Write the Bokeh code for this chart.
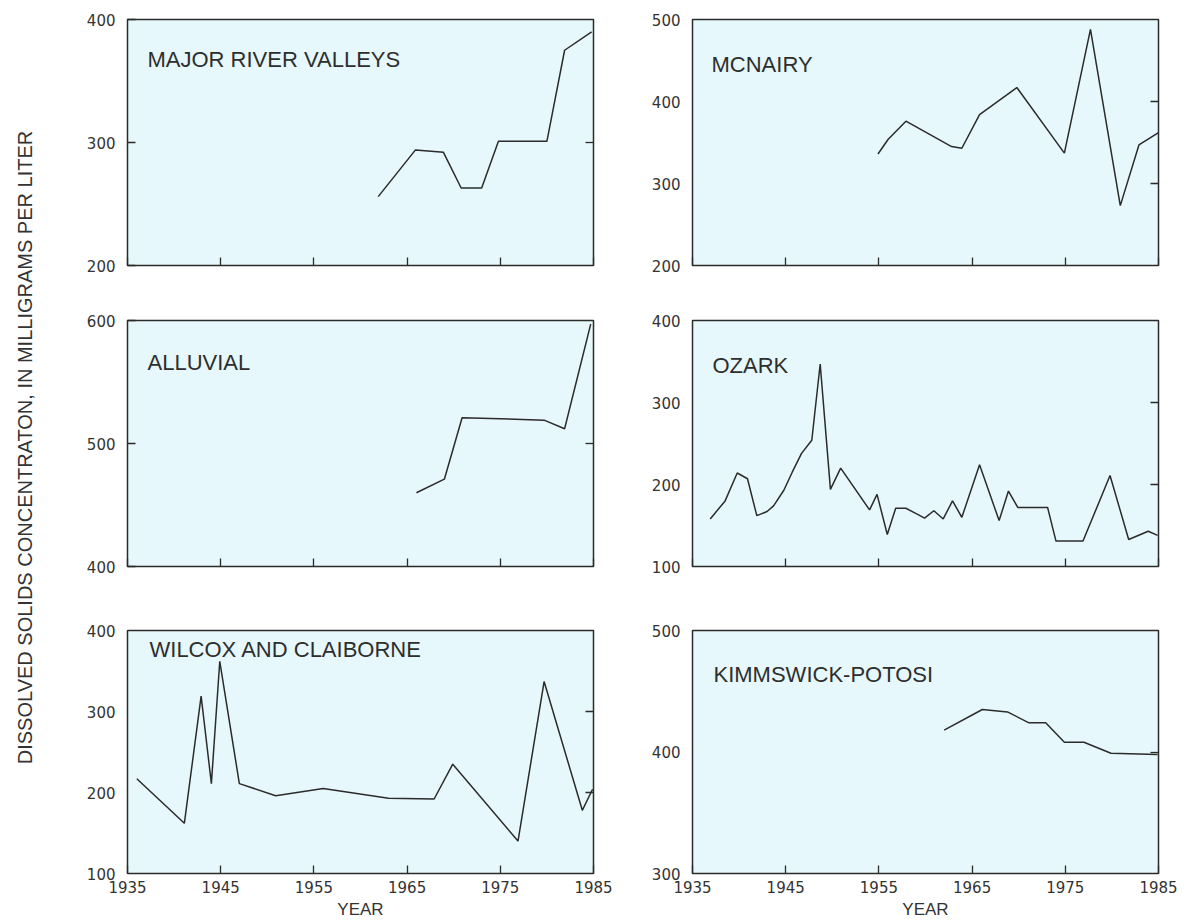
import math
from bokeh.plotting import figure
from bokeh.models import Range1d, FixedTicker, LinearAxis, Label, CustomJSTickFormatter
from bokeh.layouts import row, column
from bokeh.embed import file_html
from bokeh.resources import INLINE

# ---------------- data ----------------
year_ticks = [1935, 1945, 1955, 1965, 1975, 1985]
y_title = "DISSOLVED SOLIDS CONCENTRATON, IN MILLIGRAMS PER LITER"
x_title = "YEAR"

mrv_name = "MAJOR RIVER VALLEYS"
mrv_year = [1961.9, 1965.9, 1968.9, 1970.8, 1973.0, 1974.8, 1980.0, 1981.9, 1984.8]
mrv_tds = [256, 294, 292, 263, 263, 301, 301, 375, 390]

mcn_name = "MCNAIRY"
mcn_year = [1954.9, 1956.0, 1957.9, 1962.8, 1963.9, 1965.8, 1969.8, 1974.9, 1977.7,
            1980.9, 1982.9, 1985.0]
mcn_tds = [336, 354, 376, 345, 343, 384, 417, 337, 488, 273, 347, 362]

alv_name = "ALLUVIAL"
alv_year = [1966.0, 1969.0, 1970.9, 1979.7, 1981.9, 1984.7]
alv_tds = [460, 471, 521, 519, 512, 597]

ozk_name = "OZARK"
ozk_year = [1936.9, 1938.5, 1939.8, 1940.9, 1941.9, 1943.0, 1943.7, 1944.8, 1945.7,
            1946.7, 1947.8, 1948.7, 1949.8, 1950.9, 1954.0, 1954.8, 1955.9, 1956.8,
            1957.9, 1958.9, 1959.9, 1960.9, 1961.9, 1962.9, 1963.9, 1965.8, 1967.9,
            1968.9, 1969.9, 1973.1, 1974.0, 1976.9, 1979.8, 1981.8, 1983.9, 1984.9]
ozk_tds = [158, 180, 214, 207, 162, 167, 174, 193, 215,
           238, 254, 347, 194, 220, 169, 188, 139, 171,
           171, 165, 159, 168, 158, 180, 160, 224, 156,
           192, 172, 172, 131, 131, 211, 133, 143, 138]

wil_name = "WILCOX AND CLAIBORNE"
wil_year = [1936.0, 1941.1, 1942.9, 1944.0, 1944.9, 1947.0, 1950.9, 1956.0, 1963.0,
            1967.9, 1969.9, 1976.9, 1979.7, 1983.8, 1984.9]
wil_tds = [217, 162, 319, 211, 362, 211, 196, 205, 193, 192, 235, 140, 337, 178, 204]

kim_name = "KIMMSWICK-POTOSI"
kim_year = [1962.0, 1966.1, 1968.8, 1971.1, 1972.9, 1974.9, 1977.0, 1979.9, 1984.9]
kim_tds = [418, 435, 433, 424, 424, 408, 408, 399, 398]

# ---------------- styling / layout ----------------
FRAME_FILL = "#e6f8fb"
INK = "#2b2b2b"
TICK_FONT = "DejaVu Sans"
TEXT_FONT = "Liberation Sans"

LAB_W = 68
col_w = [558, 556]
col_bl = [59, 66]
col_br = [33, 24]
row_h = [292, 312, 317]
row_bt = [19, 28, 26]
row_bb = [27, 38, 47]

blank = CustomJSTickFormatter(code="return ''")


def panel(name, xs, ys, yr, yticks, rticks, left_in, r, c, tdx, tdy):
    p = figure(width=col_w[c], height=row_h[r],
               x_range=Range1d(1935, 1985), y_range=Range1d(*yr),
               toolbar_location=None, output_backend="svg",
               min_border_left=col_bl[c], min_border_right=col_br[c],
               min_border_top=row_bt[r], min_border_bottom=row_bb[r],
               background_fill_color=FRAME_FILL, border_fill_color="white")
    p.xgrid.visible = False
    p.ygrid.visible = False
    p.outline_line_color = INK
    p.outline_line_width = 1.5

    xa = p.xaxis[0]
    xa.ticker = FixedTicker(ticks=year_ticks)
    xa.major_tick_in = 8
    xa.major_tick_out = 0
    xa.minor_tick_line_color = None
    xa.axis_line_color = None
    xa.major_tick_line_color = INK
    xa.major_tick_line_width = 1.3
    if r == 2:
        xa.major_label_text_font = TICK_FONT
        xa.major_label_text_font_size = "15px"
        xa.major_label_text_color = "#333333"
        xa.major_label_standoff = 7
        xa.axis_label = x_title
        xa.axis_label_text_font = TEXT_FONT
        xa.axis_label_text_font_size = "17px"
        xa.axis_label_text_font_style = "normal"
        xa.axis_label_text_color = "#333333"
        xa.axis_label_standoff = 4
    else:
        xa.formatter = blank

    ya = p.yaxis[0]
    ya.ticker = FixedTicker(ticks=yticks)
    ya.major_tick_in = 8 if left_in else 0
    ya.major_tick_out = 0
    ya.minor_tick_line_color = None
    ya.axis_line_color = None
    ya.major_tick_line_color = INK
    ya.major_tick_line_width = 1.3
    ya.major_label_text_font = TICK_FONT
    ya.major_label_text_font_size = "15px"
    ya.major_label_text_color = "#333333"
    ya.major_label_standoff = 12

    ra = LinearAxis(ticker=FixedTicker(ticks=rticks), formatter=blank,
                    major_tick_in=8, major_tick_out=0,
                    minor_tick_line_color=None, axis_line_color=None,
                    major_tick_line_color=INK, major_tick_line_width=1.3,
                    major_label_standoff=0)
    p.add_layout(ra, "right")

    p.line(xs, ys, line_color=INK, line_width=1.5)

    fh = row_h[r] - row_bt[r] - row_bb[r]
    p.add_layout(Label(x=tdx, y=fh - tdy, x_units="screen", y_units="screen",
                       text=name, text_font=TEXT_FONT, text_font_size="22px",
                       text_color="#2e2e2e", text_baseline="middle", text_align="left"))
    return p


tl = panel(mrv_name, mrv_year, mrv_tds, (200, 400), [200, 300, 400], [300], True, 0, 0, 20, 40)
tr = panel(mcn_name, mcn_year, mcn_tds, (200, 500), [200, 300, 400, 500], [300, 400], False, 0, 1, 19, 45)
ml = panel(alv_name, alv_year, alv_tds, (400, 600), [400, 500, 600], [500], True, 1, 0, 20, 42)
mr = panel(ozk_name, ozk_year, ozk_tds, (100, 400), [100, 200, 300, 400], [200, 300], False, 1, 1, 20, 45)
bl = panel(wil_name, wil_year, wil_tds, (100, 400), [100, 200, 300, 400], [200, 300], False, 2, 0, 22, 20)
br = panel(kim_name, kim_year, kim_tds, (300, 500), [300, 400, 500], [400], False, 2, 1, 21, 45)

total_h = sum(row_h)
lab = figure(width=LAB_W, height=total_h, toolbar_location=None, output_backend="svg",
             x_axis_type=None, y_axis_type=None, min_border=0,
             x_range=Range1d(0, 1), y_range=Range1d(0, 1),
             outline_line_color=None, background_fill_color="white",
             border_fill_color="white")
lab.add_layout(Label(x=24, y=total_h - 447, x_units="screen", y_units="screen",
                     text=y_title, angle=math.pi / 2, text_align="center",
                     text_baseline="middle", text_font=TEXT_FONT,
                     text_font_size="20px", text_color="#333333"))

layout = row(lab, column(row(tl, tr), row(ml, mr), row(bl, br)))

open("out.html", "w").write(file_html(layout, INLINE))
